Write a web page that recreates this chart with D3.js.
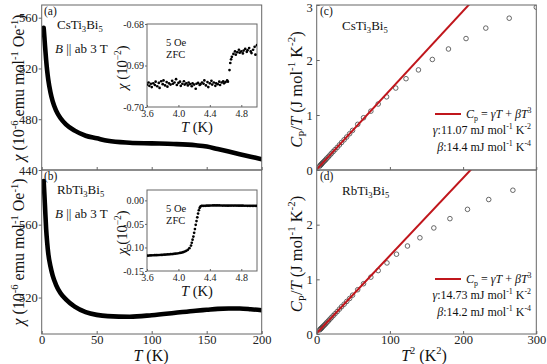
<!DOCTYPE html>
<html>
<head>
<meta charset="utf-8">
<script src="https://d3js.org/d3.v7.min.js"></script>
<style>
  body { margin: 0; background: #fff; }
  svg, svg text { font-family: "Liberation Serif", "Tinos", "DejaVu Serif", serif; }
</style>
</head>
<body>
<svg id="fig" width="547" height="364"></svg>
<script>
// --- susceptibility, B || ab 3 T (T in K, chi in 1e-6 emu/mol/Oe)
const chiT = [1.8, 2.5, 3, 4, 5, 6, 8, 10, 13, 17, 22, 30, 40, 50, 60, 80, 100, 120, 140, 150, 160, 170, 180, 190, 200];
const chiCs = [552, 544, 538, 527, 518, 511, 501, 494, 487, 481, 476, 471, 467, 465, 463, 461.5, 461, 460.5, 459.5, 458.5, 456.5, 454.5, 452.5, 450.5, 448.5];
const chiRb = [584, 576, 570, 558, 550, 544, 537, 532, 527, 522.5, 519, 515, 512, 510.5, 509.8, 509.5, 510.3, 511.5, 512.8, 513.3, 513.8, 514, 514, 513.6, 513];

// --- ZFC 5 Oe insets (T in K, chi in 1e-2)
const zfcCsT = [3.60, 3.62, 3.63, 3.65, 3.66, 3.68, 3.70, 3.71, 3.73, 3.75, 3.76, 3.78, 3.80, 3.81, 3.83, 3.85, 3.86, 3.88, 3.90, 3.92,
  3.93, 3.95, 3.97, 3.98, 4.00, 4.02, 4.03, 4.05, 4.07, 4.08, 4.10, 4.12, 4.13, 4.15, 4.17, 4.18, 4.20, 4.22, 4.23, 4.25,
  4.27, 4.28, 4.30, 4.32, 4.33, 4.35, 4.37, 4.38, 4.40, 4.42, 4.43, 4.45, 4.47, 4.48, 4.50, 4.52, 4.53, 4.55, 4.57, 4.58,
  4.60, 4.62, 4.63, 4.65, 4.66, 4.67, 4.68, 4.70, 4.72, 4.73, 4.75, 4.77, 4.78, 4.80, 4.82, 4.83, 4.85, 4.87, 4.88, 4.90,
  4.92, 4.93, 4.95, 4.97, 4.98, 5.00];
const zfcCs = [-0.6946, -0.6941, -0.6949, -0.6944, -0.6952, -0.6943, -0.6947, -0.6939, -0.6950, -0.6942, -0.6954, -0.6938, -0.6945, -0.6936, -0.6948, -0.6940, -0.6951, -0.6943, -0.6946, -0.6937,
  -0.6944, -0.6941, -0.6933, -0.6947, -0.6942, -0.6939, -0.6949, -0.6944, -0.6938, -0.6946, -0.6943, -0.6948, -0.6941, -0.6945, -0.6950, -0.6943, -0.6946, -0.6956, -0.6944, -0.6942,
  -0.6947, -0.6945, -0.6941, -0.6944, -0.6936, -0.6948, -0.6940, -0.6952, -0.6943, -0.6937, -0.6946, -0.6941, -0.6949, -0.6943, -0.6945, -0.6939, -0.6947, -0.6941, -0.6938, -0.6943,
  -0.6940, -0.6936, -0.6939, -0.6911, -0.6894, -0.6885, -0.6879, -0.6872, -0.6866, -0.6874, -0.6868, -0.6862, -0.6869, -0.6866, -0.6871, -0.6864, -0.6860, -0.6867, -0.6863, -0.6858,
  -0.6866, -0.6870, -0.6862, -0.6855, -0.6874, -0.6851];

const zfcRbT = [3.60, 3.62, 3.64, 3.66, 3.68, 3.70, 3.72, 3.74, 3.76, 3.78, 3.80, 3.82, 3.84, 3.86, 3.88, 3.90, 3.92, 3.94, 3.96, 3.98,
  4.00, 4.02, 4.04, 4.06, 4.08, 4.10, 4.12, 4.14, 4.16, 4.17, 4.18, 4.19, 4.20, 4.21, 4.22, 4.23, 4.24, 4.25, 4.26, 4.27,
  4.28, 4.29, 4.30, 4.32, 4.34, 4.36, 4.38, 4.40, 4.42, 4.44, 4.46, 4.48, 4.50, 4.52, 4.54, 4.56, 4.58, 4.60, 4.62, 4.64,
  4.66, 4.68, 4.70, 4.72, 4.74, 4.76, 4.78, 4.80, 4.82, 4.84, 4.86, 4.88, 4.90, 4.92, 4.94, 4.96, 4.98, 5.00];
const zfcRb = [-0.1175, -0.1172, -0.1170, -0.1168, -0.1166, -0.1165, -0.1163, -0.1162, -0.1160, -0.1158, -0.1156, -0.1154, -0.1152, -0.1149, -0.1146, -0.1143, -0.1140, -0.1136, -0.1132, -0.1128,
  -0.1123, -0.1117, -0.1110, -0.1100, -0.1088, -0.1072, -0.1050, -0.1015, -0.0960, -0.0900, -0.0835, -0.0770, -0.0690, -0.0610, -0.0520, -0.0440, -0.0360, -0.0280, -0.0210, -0.0160,
  -0.0130, -0.0120, -0.0117, -0.0116, -0.0115, -0.0113, -0.0112, -0.0110, -0.0109, -0.0108, -0.0108, -0.0107, -0.0107, -0.0108, -0.0109, -0.0110, -0.0111, -0.0111, -0.0112, -0.0112,
  -0.0111, -0.0111, -0.0110, -0.0110, -0.0111, -0.0112, -0.0112, -0.0113, -0.0113, -0.0114, -0.0114, -0.0115, -0.0115, -0.0116, -0.0116, -0.0117, -0.0117, -0.0118];

// --- specific heat Cp/T vs T^2
const cpCsT2 = [4, 5, 6, 7, 8, 9.5, 11, 12.5, 14, 16, 18, 20, 22.5, 25, 28, 31, 34, 37.5, 41, 45, 49, 56, 64, 74, 84, 95.5, 108, 122, 139, 158, 180, 204, 231, 263, 300];
const cpCs = [0.07, 0.085, 0.10, 0.115, 0.13, 0.15, 0.17, 0.19, 0.215, 0.24, 0.27, 0.30, 0.335, 0.37, 0.41, 0.455, 0.50, 0.55, 0.60, 0.66, 0.72, 0.83, 0.95, 1.07, 1.20, 1.33, 1.49, 1.66, 1.82, 2.01, 2.20, 2.39, 2.58, 2.76, 2.96];
const cpRbT2 = [4, 5, 6, 7, 8, 9.5, 11, 12.5, 14, 16, 18, 20, 22.5, 25, 28, 31, 34, 37.5, 41, 45, 49, 56, 64, 74, 84, 96, 109, 124, 141, 160, 182, 206, 235, 268];
const cpRb = [0.075, 0.09, 0.10, 0.115, 0.13, 0.15, 0.17, 0.19, 0.215, 0.24, 0.27, 0.30, 0.335, 0.37, 0.41, 0.455, 0.50, 0.545, 0.595, 0.65, 0.71, 0.81, 0.92, 1.04, 1.16, 1.30, 1.46, 1.61, 1.76, 1.94, 2.11, 2.28, 2.46, 2.63];
// fit parameters, J mol^-1 K^-2 and J mol^-1 K^-4
const gammaFit = [0.01107, 0.01473];
const betaFit = [0.0144, 0.0142];
const gammaText = ['11.07', '14.73'];
const betaText = ['14.4', '14.2'];

const FONT = '"Liberation Serif", "Tinos", "DejaVu Serif", serif';
const svg = d3.select('#fig');
const frameCol = '#666';
const red = '#c0161c';

// text with italic / super / sub parts
function rich(t, parts, fs) {
  let cur = 0;
  parts.forEach(([s, k = '']) => {
    const sp = t.append('tspan').text(s);
    let target = 0;
    if (k.includes('^')) { target = -0.4 * fs; sp.attr('font-size', fs * 0.66); }
    if (k.includes('_')) { target = 0.22 * fs; sp.attr('font-size', fs * 0.66); }
    if (k.includes('i')) sp.attr('font-style', 'italic');
    if (target !== cur) sp.attr('dy', target - cur);
    cur = target;
  });
  return t;
}
function label(x, y, parts, fs, opts = {}) {
  const t = svg.append('text').attr('x', x).attr('y', y).attr('font-size', fs)
    .attr('font-family', FONT)
    .attr('text-anchor', opts.anchor || 'start').attr('fill', '#111');
  if (opts.rot) t.attr('transform', `rotate(-90,${x},${y})`);
  return rich(t, parts, fs);
}

let clipN = 0;
function clip(x0, y0, x1, y1) {
  const id = 'c' + (clipN++);
  svg.append('clipPath').attr('id', id).append('rect')
    .attr('x', x0).attr('y', y0).attr('width', x1 - x0).attr('height', y1 - y0);
  return `url(#${id})`;
}

function styleAxis(g, fs) {
  g.attr('font-family', FONT);
  g.select('.domain').remove();
  g.selectAll('line').attr('stroke', frameCol);
  g.selectAll('text').attr('font-size', fs).attr('fill', '#222').attr('font-family', FONT);
}

// ---------- left column: susceptibility ----------
const LX0 = 41.7, LX1 = 261.7;
const xT = d3.scaleLinear().domain([0, 200]).range([LX0, LX1]);
const panelsL = [
  { y0: 5, y1: 170, dom: [440, 570], ticks: [440, 480, 520, 560], data: chiCs, name: 'Cs', tag: '(a)' },
  { y0: 170, y1: 334, dom: [500, 590], ticks: [520, 560], data: chiRb, name: 'Rb', tag: '(b)' }
];
panelsL.forEach((p, i) => {
  const y = d3.scaleLinear().domain(p.dom).range([p.y1, p.y0]);
  const cp = clip(LX0, p.y0, LX1, p.y1);
  const line = d3.line().x((d, j) => xT(chiT[j])).y(d => y(d)).curve(d3.curveMonotoneX);
  svg.append('path').datum(p.data).attr('d', line).attr('clip-path', cp)
    .attr('fill', 'none').attr('stroke', '#000').attr('stroke-width', 4.6).attr('stroke-linecap', 'round');

  const ay = svg.append('g').attr('transform', `translate(${LX0},0)`)
    .call(d3.axisLeft(y).tickValues(p.ticks).tickSize(3).tickPadding(1).tickFormat(d3.format('d')));
  styleAxis(ay, 12.5);
  const ax = svg.append('g').attr('transform', `translate(0,${p.y1})`)
    .call(d3.axisBottom(xT).tickValues([0, 50, 100, 150, 200]).tickSize(-3).tickPadding(1)
      .tickFormat(i === 1 ? d3.format('d') : ''));
  styleAxis(ax, 12.5);
  svg.append('rect').attr('x', LX0).attr('y', p.y0).attr('width', LX1 - LX0).attr('height', p.y1 - p.y0)
    .attr('fill', 'none').attr('stroke', frameCol);

  label(44, p.y0 + 10, [[p.tag]], 11.5);
  label(57, p.y0 + 24, [[p.name + 'Ti'], ['3', '_'], ['Bi'], ['5', '_']], 13);
  label(55, p.y0 + 48, [['B', 'i'], [' || ab  3 T']], 13);
});

// insets
const insets = [
  { y0: 24, y1: 107, dom: [-0.70, -0.68], ticks: [-0.70, -0.69, -0.68], fmt: d3.format('.2f'), T: zfcCsT, v: zfcCs },
  { y0: 190, y1: 271, dom: [-0.15, 0.022], ticks: [-0.15, -0.10, -0.05, 0.00], fmt: d3.format('.2f'), T: zfcRbT, v: zfcRb }
];
const IX0 = 147, IX1 = 257;
const xI = d3.scaleLinear().domain([3.6, 5.0]).range([IX0, IX1]);
const minus = s => s.replace('−', '-');
insets.forEach(p => {
  const y = d3.scaleLinear().domain(p.dom).range([p.y1, p.y0]);
  svg.append('rect').attr('x', IX0).attr('y', p.y0).attr('width', IX1 - IX0).attr('height', p.y1 - p.y0)
    .attr('fill', '#fff').attr('stroke', frameCol);
  const cp = clip(IX0, p.y0, IX1, p.y1);
  svg.append('g').attr('clip-path', cp).selectAll('circle').data(p.v).join('circle')
    .attr('cx', (d, j) => xI(p.T[j])).attr('cy', d => y(d)).attr('r', 1.35).attr('fill', '#000');
  const ay = svg.append('g').attr('transform', `translate(${IX0},0)`)
    .call(d3.axisLeft(y).tickValues(p.ticks).tickSize(2).tickPadding(1).tickFormat(d => minus(p.fmt(d))));
  styleAxis(ay, 10);
  const ax = svg.append('g').attr('transform', `translate(0,${p.y1})`)
    .call(d3.axisBottom(xI).tickValues([3.6, 4.0, 4.4, 4.8]).tickSize(-2).tickPadding(3).tickFormat(d3.format('.1f')));
  styleAxis(ax, 10);
  label(166, p.y0 + 22, [['5 Oe']], 10.5);
  label(166, p.y0 + 34, [['ZFC']], 10.5);
  label(IX0 + 50, p.y1 + 25, [['T', 'i'], [' (K)']], 14.5, { anchor: 'middle' });
  label(127, (p.y0 + p.y1) / 2 + 2, [['χ', 'i'], [' (10'], ['−2', '^'], [')']], 14.5, { anchor: 'middle', rot: true });
});

const chiLab = [['χ', 'i'], [' (10'], ['-6', '^'], [' emu mol'], ['-1', '^'], [' Oe'], ['-1', '^'], [')']];
label(24, 88, chiLab, 16, { anchor: 'middle', rot: true });
label(24, 252, chiLab, 16, { anchor: 'middle', rot: true });
label(151, 360.5, [['T', 'i'], [' (K)']], 16, { anchor: 'middle' });

// ---------- right column: specific heat ----------
const RX0 = 316.7, RX1 = 536.3;
const xT2 = d3.scaleLinear().domain([0, 300]).range([RX0, RX1]);
const panelsR = [
  { y0: 5, y1: 170, t2: cpCsT2, v: cpCs, name: 'Cs', tag: '(c)' },
  { y0: 170, y1: 334, t2: cpRbT2, v: cpRb, name: 'Rb', tag: '(d)' }
];
panelsR.forEach((p, i) => {
  const y = d3.scaleLinear().domain([0, 3]).range([p.y1, p.y0]);
  const cp = clip(RX0, p.y0, RX1, p.y1);
  svg.append('g').attr('clip-path', cp).selectAll('circle').data(p.v).join('circle')
    .attr('cx', (d, j) => xT2(p.t2[j])).attr('cy', d => y(d)).attr('r', 2.3)
    .attr('fill', 'none').attr('stroke', '#444').attr('stroke-width', 0.8);
  const fit = xT2.domain().map(t2 => [t2, gammaFit[i] + betaFit[i] * t2]);
  svg.append('path').datum(fit).attr('clip-path', cp)
    .attr('d', d3.line().x(d => xT2(d[0])).y(d => y(d[1])))
    .attr('stroke', red).attr('stroke-width', 2).attr('fill', 'none');

  // top label of lower panel coincides with the 0 of the upper one
  const yTicks = i === 0 ? [0, 1, 2, 3] : [0, 1, 2];
  const ay = svg.append('g').attr('transform', `translate(${RX0},0)`)
    .call(d3.axisLeft(y).tickValues(yTicks).tickSize(-3).tickPadding(4).tickFormat(d3.format('d')));
  styleAxis(ay, 12.5);
  ay.selectAll('.tick').filter(d => d === 3).select('text').attr('dy', '0.5em');
  const ax = svg.append('g').attr('transform', `translate(0,${p.y1})`)
    .call(d3.axisBottom(xT2).tickValues([0, 100, 200, 300]).tickSize(-3).tickPadding(1)
      .tickFormat(i === 1 ? d3.format('d') : ''));
  styleAxis(ax, 12.5);
  svg.append('rect').attr('x', RX0).attr('y', p.y0).attr('width', RX1 - RX0).attr('height', p.y1 - p.y0)
    .attr('fill', 'none').attr('stroke', frameCol);

  label(320, p.y0 + 10, [[p.tag]], 11.5);
  label(342, p.y0 + 25, [[p.name + 'Ti'], ['3', '_'], ['Bi'], ['5', '_']], 13);

  // legend
  const ly = p.y0 + 109;
  svg.append('line').attr('x1', 435).attr('x2', 461).attr('y1', ly).attr('y2', ly)
    .attr('stroke', red).attr('stroke-width', 2);
  label(466, ly + 4, [['C', 'i'], ['p', '_'], [' = '], ['γT', 'i'], [' + '], ['βT', 'i'], ['3', '^']], 12);
  label(531, ly + 20, [['γ', 'i'], [':' + gammaText[i] + ' mJ mol'], ['-1', '^'], [' K'], ['-2', '^']], 12, { anchor: 'end' });
  label(531, ly + 37, [['β', 'i'], [':' + betaText[i] + ' mJ mol'], ['-1', '^'], [' K'], ['-4', '^']], 12, { anchor: 'end' });

  label(302, (p.y0 + p.y1) / 2 + 2, [['C', 'i'], ['P', '_'], ['/'], ['T', 'i'], [' (J mol'], ['-1', '^'], [' K'], ['-2', '^'], [')']], 16.5, { anchor: 'middle', rot: true });
});
label(424, 360.5, [['T', 'i'], ['2', '^'], [' (K'], ['2', '^'], [')']], 16, { anchor: 'middle' });
</script>
</body>
</html>
